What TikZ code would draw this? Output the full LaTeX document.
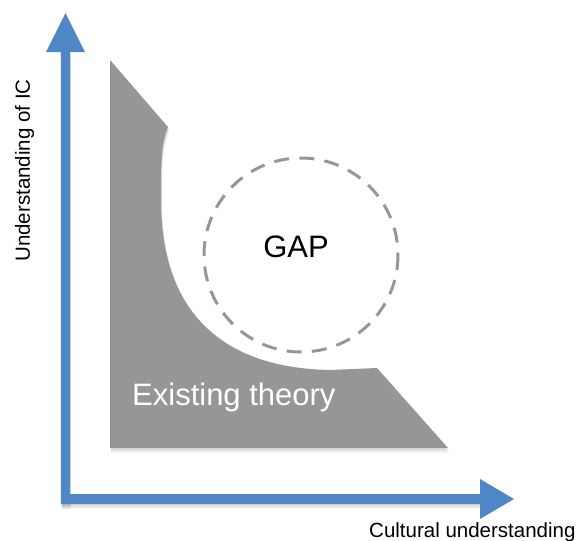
\documentclass[tikz,border=0pt]{standalone}
\usepackage{fontspec}
\setmainfont{Liberation Sans}
\definecolor{axisblue}{RGB}{79,134,198}
\definecolor{theorygray}{RGB}{150,150,150}
\definecolor{gapgray}{RGB}{150,150,150}
\begin{document}
\begin{tikzpicture}[x=1pt,y=-1pt,
  axisfill/.style={fill=axisblue},
  theory/.style={fill=theorygray},
  gapcircle/.style={draw=gapgray,line width=3pt,dash pattern=on 15pt off 10.3pt},
  smalllabel/.style={font=\fontsize{20.5}{24}\selectfont,text=black,inner sep=0pt},
  biglabel/.style={font=\fontsize{31}{36}\selectfont,inner sep=0pt}]
\useasboundingbox (0,0) rectangle (582,541);
% soft shadows
\foreach \o/\a in {5/0.04,3.5/0.05,2/0.06}{
  \fill[black,opacity=\a,shift={(1,\o)}] (110,60) -- (168,127)
    .. controls (161,145) and (161,160) .. (161,200)
    .. controls (161,310) and (220,368) .. (330,370)
    -- (377,368) -- (448,448) -- (110,448) -- cycle;
  \fill[black,opacity=\a,shift={(1,\o)}] (61,52) rectangle (70,504);
  \fill[black,opacity=\a,shift={(1,\o)}] (61,494) rectangle (480,504);
}
% existing theory region
\fill[theory] (110,60) -- (168,127)
  .. controls (161,145) and (161,160) .. (161,200)
  .. controls (161,310) and (220,368) .. (330,370)
  -- (377,368) -- (448,448) -- (110,448) -- cycle;
% axes
\fill[axisfill] (60.8,52) -- (70.2,52) -- (70.2,494) -- (480,494) -- (480,504) -- (60.8,504) -- cycle;
\fill[axisfill] (46,52) -- (65.5,13) -- (85,52) -- cycle;
\fill[axisfill] (480,479) -- (514,499) -- (480,519) -- cycle;
% gap
\draw[gapcircle] (301,255) circle (97);
\node[biglabel] (gap) at (296,247) {GAP};
\node[biglabel,text=white,anchor=base west] (theorylabel) at (132,405) {Existing theory};
\node[smalllabel,anchor=base west] (xlabel) at (369,537) {Cultural understanding};
\node[smalllabel,rotate=90,anchor=base] (ylabel) at (30,170.5) {Understanding of IC};
\end{tikzpicture}
\end{document}
